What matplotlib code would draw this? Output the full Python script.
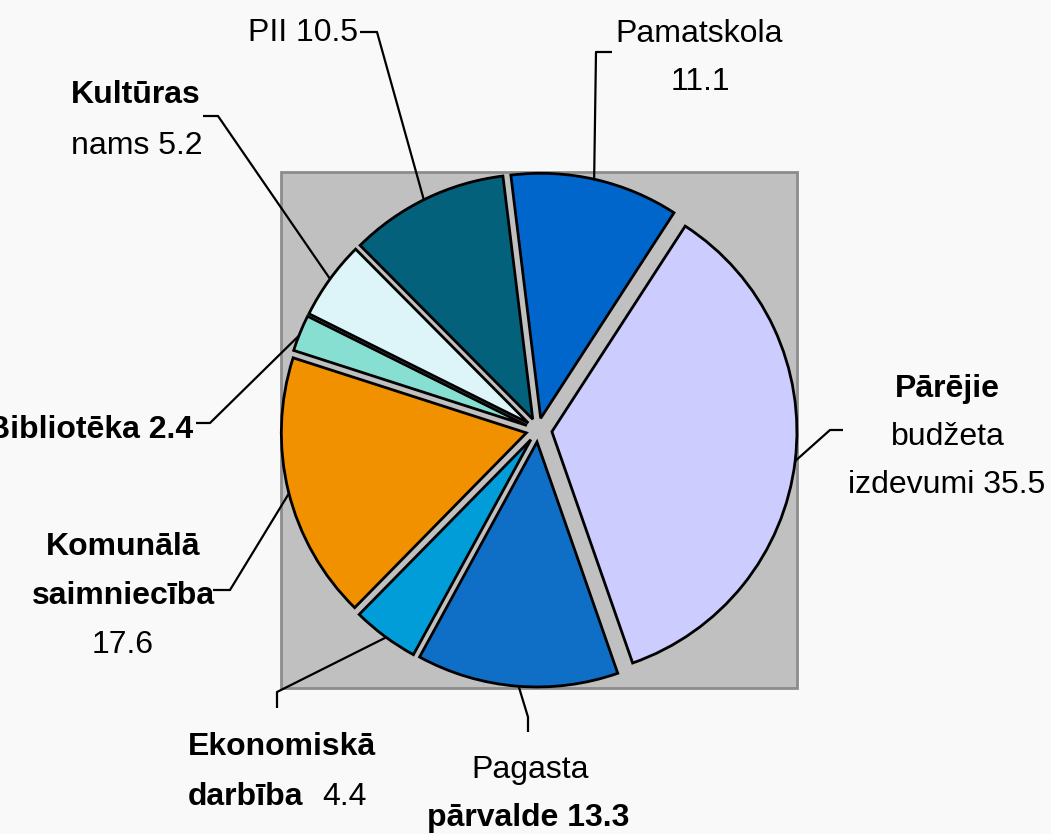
import numpy as np
import matplotlib
matplotlib.use("Agg")
import matplotlib.pyplot as plt
from matplotlib.patches import Rectangle

plt.rcParams['font.family'] = ['Liberation Sans', 'DejaVu Sans']

# ---- data ----
categories = ["Pamatskola", "Pārējie budžeta izdevumi", "Pagasta pārvalde",
              "Ekonomiskā darbība", "Komunālā saimniecība", "Bibliotēka",
              "Kultūras nams", "PII"]
values = [11.1, 35.5, 13.3, 4.4, 17.6, 2.4, 5.2, 10.5]
colors = ["#0066CC", "#CCCCFF", "#0F6FC6", "#009DD9", "#F29100",
          "#86DFD0", "#DDF5F9", "#04617B"]

# ---- layout (pixel space, image y downward converted) ----
W, H = 1051, 834
def Y(y):
    return H - y

fig = plt.figure(figsize=(W / 100, H / 100), dpi=100)
fig.patch.set_facecolor("#F9F9F9")
ax = fig.add_axes([0, 0, 1, 1])

CX, CY, R = 538, 430, 245
explode = [12, 14, 12, 12, 12, 12, 12, 12]

wedges, _ = ax.pie(values, explode=explode, colors=colors, startangle=97,
                   counterclock=False, center=(CX, Y(CY)), radius=R,
                   wedgeprops=dict(edgecolor="black", linewidth=2))
for w in wedges:
    w.set_zorder(2)

ax.add_patch(Rectangle((281, Y(688)), 516, 516, facecolor="#C0C0C0",
                       edgecolor="#8C8C8C", linewidth=2, zorder=0))

ax.set_xlim(0, W)
ax.set_ylim(0, H)
ax.set_aspect("equal")
ax.axis("off")

# leader lines: attach angle (deg, math convention) and knee points (image coords)
attach = [77.4, -6.9, 265.7, 233.8, 194.3, 158.5, 144.0, 116.4]
knees = [[(596, 52), (612, 52)],
         [(830, 430), (843, 430)],
         [(528, 717), (528, 732)],
         [(277, 692), (277, 708)],
         [(230, 590), (213, 590)],
         [(210, 423), (196, 423)],
         [(218, 116), (203, 116)],
         [(377, 32), (360, 32)]]
for w, a, kn in zip(wedges, attach, knees):
    cx, cy = w.center
    r = w.r
    px = cx + r * np.cos(np.radians(a))
    py = cy + r * np.sin(np.radians(a))
    xs = [px] + [k[0] for k in kn]
    ys = [py] + [Y(k[1]) for k in kn]
    ax.plot(xs, ys, color="black", lw=1.6, zorder=3, solid_capstyle="butt")

FS = 23
def txt(x, y, s, bold=False, ha="center"):
    ax.text(x, Y(y), s, fontsize=FS, fontweight="bold" if bold else "normal",
            ha=ha, va="baseline", color="black", zorder=4)

# Pamatskola
txt(699, 42, "Pamatskola")
txt(700, 90, f"{values[0]}")
# Pārējie
txt(947, 397, "Pārējie", bold=True)
txt(948, 445, "budžeta")
txt(947, 493, f"izdevumi {values[1]}")
# Pagasta
txt(530, 778, "Pagasta")
txt(528, 826, f"pārvalde {values[2]}", bold=True)
# Ekonomiskā
txt(188, 755, "Ekonomiskā", bold=True, ha="left")
txt(188, 805, "darbība", bold=True, ha="left")
txt(367, 805, f"{values[3]}", ha="right")
# Komunālā
txt(123, 555, "Komunālā", bold=True)
txt(123, 604, "saimniecība", bold=True)
txt(123, 653, f"{values[4]}")
# Bibliotēka
txt(193, 438, f"Bibliotēka {values[5]}", bold=True, ha="right")
# Kultūras
txt(136, 103, "Kultūras", bold=True)
txt(137, 154, f"nams {values[6]}")
# PII
txt(358, 41, f"PII {values[7]}", ha="right")

fig.savefig("out.png", dpi=100, facecolor=fig.get_facecolor())
